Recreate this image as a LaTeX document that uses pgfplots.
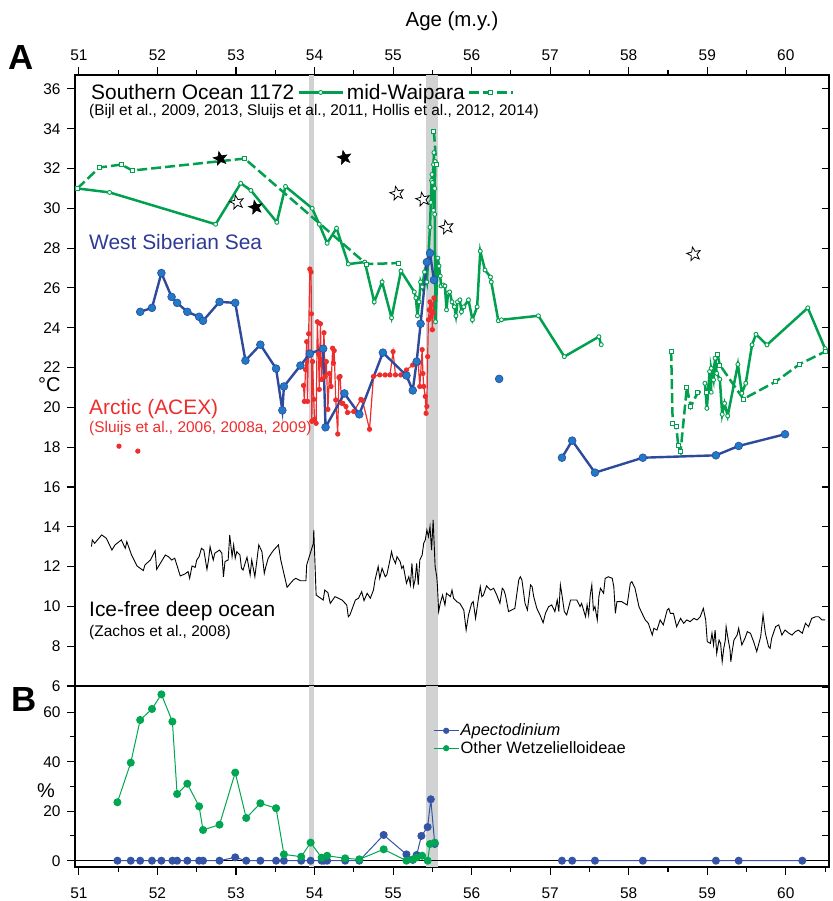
\documentclass[border=0pt]{standalone}
\usepackage{fontspec}
\setmainfont{Liberation Sans}
\usepackage{pgfplots}
\pgfplotsset{compat=1.18}
\usetikzlibrary{plotmarks}
\definecolor{sgreen}{HTML}{00A04F}
\definecolor{bline}{HTML}{2E4A9C}
\definecolor{bfill}{HTML}{1F7AC8}
\definecolor{rred}{HTML}{EE2D2D}
\definecolor{band}{HTML}{D1D2D4}
\definecolor{wss}{HTML}{2E3A94}
\definecolor{bblue}{HTML}{3554A5}
\definecolor{bgreen}{HTML}{00A651}
\pgfdeclareplotmark{fivestar}{%
 \pgfpathmoveto{\pgfpointpolar{90}{\pgfplotmarksize}}%
 \pgfpathlineto{\pgfpointpolar{126}{0.42\pgfplotmarksize}}%
 \pgfpathlineto{\pgfpointpolar{162}{\pgfplotmarksize}}%
 \pgfpathlineto{\pgfpointpolar{198}{0.42\pgfplotmarksize}}%
 \pgfpathlineto{\pgfpointpolar{234}{\pgfplotmarksize}}%
 \pgfpathlineto{\pgfpointpolar{270}{0.42\pgfplotmarksize}}%
 \pgfpathlineto{\pgfpointpolar{306}{\pgfplotmarksize}}%
 \pgfpathlineto{\pgfpointpolar{342}{0.42\pgfplotmarksize}}%
 \pgfpathlineto{\pgfpointpolar{18}{\pgfplotmarksize}}%
 \pgfpathlineto{\pgfpointpolar{54}{0.42\pgfplotmarksize}}%
 \pgfpathclose
 \pgfusepathqfillstroke
}
\pgfplotsset{
  base/.style={scale only axis, width=754bp, xmin=50.95, xmax=60.55,
    axis line style={line width=1.1bp}, every tick/.style={black, line width=1.1bp},
    tick align=outside, major tick length=8bp, minor tick length=5bp,
    /pgf/number format/assume math mode=true,
    tick label style={font=\fontsize{15.5}{18}\selectfont},
    yticklabel style={xshift=-3bp},
    unbounded coords=jump},
  rightticks/.style={scale only axis, width=754bp, xmin=50.95, xmax=60.55,
    hide x axis, axis y line*=right, yticklabels={}, tick align=inside,
    major tick length=7bp, axis line style={line width=1.1bp},
    every tick/.style={black, line width=1.1bp}},
}
\begin{document}
\begin{tikzpicture}
\useasboundingbox (0,0) rectangle (833bp,901bp);
% ---------------- top panel
\begin{axis}[base, at={(75bp,215bp)}, anchor=south west, height=611bp,
  ymin=6, ymax=36.7,
  xtick={51,52,...,60}, minor xtick={51.5,52.5,...,59.5},
  xtick pos=right, xticklabel pos=right,
  xticklabel style={yshift=2.5bp},
  ytick={6,8,...,36}, ytick pos=left,
  xlabel={Age (m.y.)}, xlabel style={font=\fontsize{20.5}{24}\selectfont, yshift=12bp},
  legend plot pos=right, legend columns=2,
  legend image code/.code={\draw[mark repeat=2,mark phase=2,#1] plot coordinates {(0bp,0bp) (22bp,0bp) (44bp,0bp)};},
  legend style={at={(0.0186,0.9714)}, anchor=west, draw=none, fill=none,
    inner sep=0pt, font=\fontsize{21}{24}\selectfont,
    nodes={inner sep=2bp}, /tikz/column sep=1bp},
]
\fill[band] (axis cs:53.93,6) rectangle (axis cs:53.99,36.7);
\fill[band] (axis cs:55.42,6) rectangle (axis cs:55.57,36.7);
% deep ocean
\addplot[black, line width=0.9bp, forget plot] table {
51.16 13.00
51.17 13.34
51.20 13.17
51.29 13.59
51.35 13.42
51.42 12.83
51.46 13.09
51.54 13.34
51.59 12.92
51.61 13.25
51.67 12.58
51.74 12.03
51.82 11.80
51.84 12.08
51.91 12.33
51.97 12.80
51.99 11.86
52.10 12.58
52.14 12.50
52.18 12.33
52.22 12.42
52.29 11.53
52.35 11.63
52.39 11.75
52.41 11.41
52.44 12.03
52.48 11.96
52.50 12.33
52.53 12.50
52.56 12.92
52.59 12.83
52.63 11.86
52.65 12.33
52.67 13.00
52.71 12.33
52.73 12.67
52.79 12.83
52.82 12.67
52.84 11.49
52.86 12.25
52.90 12.33
52.92 13.59
52.95 12.50
52.97 13.09
52.99 12.42
53.01 12.75
53.05 12.58
53.07 11.91
53.09 11.83
53.14 12.47
53.18 11.58
53.20 12.33
53.24 11.49
53.29 13.09
53.33 12.75
53.36 11.66
53.38 12.00
53.41 12.42
53.45 12.67
53.48 12.83
53.52 13.00
53.54 13.09
53.57 12.33
53.65 10.96
53.73 11.33
53.76 11.41
53.82 11.29
53.89 11.29
53.90 12.08
53.985 13.17
53.99 13.84
54.02 10.57
54.11 10.32
54.13 10.82
54.17 10.69
54.20 10.15
54.26 10.49
54.35 10.32
54.41 10.07
54.43 9.48
54.45 9.57
54.52 10.32
54.56 10.41
54.60 10.74
54.63 10.29
54.67 10.66
54.71 10.41
54.75 10.82
54.77 11.33
54.81 12.00
54.83 11.41
54.86 11.91
54.90 11.49
54.92 11.58
54.96 12.33
54.98 12.75
55.00 12.42
55.03 12.16
55.05 12.50
55.09 12.25
55.11 11.91
55.13 12.03
55.17 11.16
55.20 11.49
55.22 11.08
55.24 12.16
55.26 11.00
55.28 11.33
55.30 12.16
55.32 11.08
55.34 12.33
55.37 12.58
55.39 13.17
55.41 13.34
55.43 13.84
55.45 13.50
55.47 14.01
55.49 12.83
55.51 14.34
55.535 12.00
55.556 11.49
55.565 10.99
55.58 9.74
55.60 10.15
55.63 10.57
55.66 10.07
55.68 10.66
55.73 10.49
55.75 10.82
55.77 10.41
55.81 10.24
55.85 10.15
55.90 9.82
55.93 8.81
55.96 9.57
56.00 10.15
56.02 10.24
56.05 9.40
56.09 10.49
56.11 10.99
56.13 10.49
56.15 10.57
56.19 11.03
56.24 10.82
56.28 10.91
56.32 10.57
56.36 10.15
56.39 10.91
56.41 10.82
56.43 10.57
56.47 9.74
56.51 9.82
56.55 9.90
56.60 11.33
56.62 11.49
56.64 11.33
56.68 10.15
56.71 9.82
56.75 11.08
56.77 10.99
56.79 10.49
56.83 9.90
56.87 9.57
56.91 9.18
56.94 9.65
56.98 9.99
57.02 10.07
57.06 9.74
57.09 10.32
57.11 9.74
57.13 11.08
57.15 10.57
57.18 9.74
57.21 9.57
57.26 10.32
57.30 10.32
57.34 10.32
57.38 9.99
57.40 10.15
57.45 9.48
57.47 10.07
57.49 9.57
57.51 10.57
57.53 11.08
57.55 9.82
57.57 9.99
57.60 9.32
57.62 10.49
57.64 10.91
57.68 10.66
57.70 11.41
57.74 11.49
57.79 11.41
57.81 10.99
57.83 9.65
57.85 10.24
57.91 10.24
57.98 10.07
58.02 11.16
58.04 11.24
58.06 11.08
58.08 10.91
58.13 9.99
58.17 9.65
58.21 9.32
58.25 9.15
58.30 8.56
58.32 8.90
58.36 8.81
58.40 9.32
58.44 9.07
58.49 9.82
58.51 9.90
58.53 9.65
58.57 9.65
58.61 8.98
58.66 9.40
58.70 9.15
58.74 9.32
58.78 9.23
58.83 9.40
58.87 9.32
58.91 9.48
58.95 9.90
58.98 9.32
59.00 8.23
59.04 8.14
59.06 8.65
59.08 8.06
59.10 8.81
59.12 7.64
59.15 8.31
59.17 8.14
59.19 7.22
59.21 7.89
59.23 8.31
59.24 8.98
59.26 8.48
59.29 7.81
59.30 7.22
59.32 7.81
59.34 8.31
59.38 8.56
59.40 8.90
59.44 8.06
59.48 8.40
59.51 8.73
59.55 8.65
59.59 8.23
59.63 7.73
59.68 8.48
59.71 9.57
59.74 8.65
59.78 7.98
59.80 7.89
59.82 8.40
59.87 8.98
59.91 9.07
59.95 8.56
59.99 8.81
60.04 8.65
60.08 8.56
60.12 8.73
60.16 8.81
60.21 8.65
60.25 9.15
60.29 8.98
60.33 9.40
60.38 9.48
60.42 9.48
60.46 9.32
60.50 9.32
};
% Southern Ocean 1172 (solid)
\addplot[sgreen, line width=2.5bp, mark=*, mark size=2bp,
  mark options={fill=white, draw=sgreen, line width=0.9bp, solid}] table {
50.98 31.00
51.39 30.80
52.74 29.20
53.06 31.26
53.19 30.90
53.52 29.30
53.63 31.10
53.97 30.00
54.06 29.20
54.16 28.25
54.28 29.00
54.43 27.20
54.64 27.30
54.76 25.30
54.86 26.30
54.98 24.50
55.10 26.85
55.27 25.80
55.29 25.50
55.31 24.60
55.33 25.30
55.35 26.30
55.37 26.05
55.40 26.80
55.43 26.30
55.47 29.05
55.48 30.30
55.49 31.40
55.495 31.70
55.50 31.30
55.515 32.20
55.52 32.80
55.515 29.90
55.53 31.00
55.535 32.35
55.53 29.70
55.54 24.30
55.57 27.50
55.585 27.10
55.60 26.60
55.61 26.10
55.64 26.15
55.66 26.10
55.68 24.90
55.70 25.75
55.72 25.80
55.75 25.30
55.78 25.05
55.80 24.60
55.82 25.30
55.85 25.40
55.87 24.80
55.90 25.05
55.96 25.40
56.01 24.40
56.07 25.05
56.11 27.85
56.17 26.90
56.24 26.55
56.25 26.30
56.34 24.35
56.38 24.40
56.85 24.60
57.18 22.55
57.62 23.55
57.65 23.15
nan nan
58.97 21.21
58.995 19.95
59.03 21.80
59.05 20.76
59.05 21.96
59.08 21.38
59.10 22.47
59.12 21.71
59.16 21.41
59.19 19.65
59.22 20.20
59.26 19.57
59.39 22.16
59.44 20.71
59.49 21.21
59.57 23.14
59.62 23.67
59.76 23.14
60.28 25.00
60.50 22.95
};
\addlegendentry{Southern Ocean 1172}
% mid-Waipara (dashed)
\addplot[sgreen, line width=2.5bp, dash pattern=on 10bp off 4bp, mark=square*, mark size=2bp,
  mark options={fill=white, draw=sgreen, line width=0.9bp, solid}] table {
50.98 31.00
51.26 32.05
51.54 32.20
51.68 31.90
53.11 32.50
54.66 27.20
55.07 27.25
nan nan
55.52 33.85
55.55 32.20
nan nan
58.54 22.83
58.56 19.17
58.605 19.03
58.63 18.11
58.66 17.78
58.74 21.01
58.79 20.04
58.88 20.76
58.99 20.76
59.13 22.68
59.16 22.13
59.46 20.42
59.87 21.29
60.18 22.18
60.50 22.80
};
\addlegendentry{mid-Waipara}
% Arctic ACEX
\addplot[rred, line width=1.2bp, mark=*, mark size=2bp, mark options={fill=rred, draw=rred}, forget plot] table {
51.51 18.05
nan nan
51.75 17.80
nan nan
53.86 21.10
53.87 20.30
53.885 21.90
53.90 23.30
53.91 20.30
53.925 23.70
53.94 26.95
53.955 26.80
53.96 24.70
53.965 19.30
53.975 22.30
53.99 20.40
54.00 19.40
54.02 19.20
54.035 24.30
54.05 22.70
54.06 20.90
54.075 24.20
54.09 21.40
54.12 23.75
54.135 21.55
54.15 22.30
54.17 19.90
54.19 21.70
54.21 21.05
54.23 22.97
54.24 22.22
54.25 22.85
54.27 20.37
54.295 18.66
54.31 21.50
54.325 21.55
54.345 20.21
54.36 20.20
54.40 20.04
54.42 19.74
54.50 19.79
54.59 20.40
54.61 20.34
54.70 18.90
54.75 21.55
54.83 21.63
54.90 21.63
54.96 21.63
55.00 22.80
55.03 21.63
55.10 21.63
55.17 21.88
55.25 22.13
55.32 22.22
55.34 21.05
55.37 22.90
55.38 21.70
55.39 21.05
55.41 20.55
55.42 19.70
55.43 20.05
55.44 22.55
55.45 24.40
55.46 24.90
55.47 25.30
55.48 24.55
55.49 25.15
55.50 23.90
55.51 24.75
55.52 25.50
};
% West Siberian Sea
\addplot[bline, line width=2.4bp, mark=*, mark size=3.9bp, mark options={fill=bfill, draw=bline, line width=0.6bp}, forget plot] table {
51.78 24.80
51.93 25.00
52.05 26.75
52.18 25.55
52.25 25.25
52.38 24.80
52.53 24.55
52.58 24.35
52.79 25.30
52.99 25.25
53.12 22.35
53.31 23.15
53.51 21.95
53.59 19.85
53.61 21.05
53.82 22.10
53.94 22.70
54.11 22.95
54.14 19.00
54.38 20.70
54.57 19.65
54.87 22.75
55.17 21.60
55.25 20.85
55.30 22.30
55.35 24.20
55.43 27.30
55.47 27.75
55.52 26.40
nan nan
56.35 21.43
nan nan
57.15 17.47
57.28 18.33
57.57 16.72
58.18 17.47
59.11 17.59
59.40 18.06
59.99 18.65
};
% stars
\addplot[only marks, mark=fivestar, mark size=7.2bp, mark options={fill=black, draw=black, line width=0.6bp, rotate=12}, forget plot] table {
52.80 32.50
53.25 30.05
54.38 32.55
};
\addplot[only marks, mark=fivestar, mark size=7.2bp, mark options={fill=white, draw=black, line width=0.8bp, rotate=12}, forget plot] table {
53.01 30.30
55.05 30.75
55.38 30.45
55.68 29.05
58.83 27.70
};
\end{axis}
\begin{axis}[rightticks, at={(75bp,215bp)}, anchor=south west, height=611bp,
  ymin=6, ymax=36.7, ytick={6,8,...,36}]
\end{axis}
% ---------------- bottom panel
\begin{axis}[base, at={(75bp,34bp)}, anchor=south west, height=181bp,
  ymin=-2.55, ymax=70.58,
  xtick={51,52,...,60}, minor xtick={51.5,52.5,...,60.5},
  xtick pos=left, xticklabel pos=left,
  xticklabel style={yshift=-9.5bp},
  ytick={0,20,40,60}, minor ytick={10,30,50}, ytick pos=left,
  legend image code/.code={\draw[mark repeat=2,mark phase=2,#1, mark size=2.6bp] plot coordinates {(0bp,0bp) (12.5bp,0bp) (25bp,0bp)};},
  legend cell align=left,
  legend style={at={(0.4748,0.7045)}, anchor=west, draw=none, fill=none,
    inner sep=0pt, font=\fontsize{16.5}{19}\selectfont,
    nodes={inner sep=1.5bp}, /tikz/row sep=1bp},
]
\fill[band] (axis cs:53.93,-2.55) rectangle (axis cs:53.99,70.58);
\fill[band] (axis cs:55.42,-2.55) rectangle (axis cs:55.57,70.58);
\addplot[black, line width=1bp, forget plot] coordinates {(50.95,0) (60.55,0)};
\addplot[bblue, line width=1bp, mark=*, mark size=3.5bp, mark options={fill=bblue, draw=bblue}] table {
51.49 0
51.66 0
51.78 0
51.93 0
52.05 0
52.19 0
52.25 0
52.38 0
52.53 0
52.58 0
52.79 0
52.99 1.35
53.13 0
53.31 0
53.51 0
53.61 0
53.83 0
53.95 0
54.09 0
54.12 0
54.16 0
54.39 0
54.57 0
54.88 10.4
55.17 2.55
55.25 0.3
55.30 2.3
55.36 10.0
55.44 13.6
55.48 24.8
55.53 6.75
nan nan
57.15 0
57.28 0
57.57 0
58.18 0
59.11 0
59.40 0
60.21 0
};
\addlegendentry{\itshape Apectodinium}
\addplot[bgreen, line width=1bp, mark=*, mark size=3.5bp, mark options={fill=bgreen, draw=bgreen}] table {
51.49 23.6
51.66 39.6
51.78 56.85
51.93 61.3
52.05 67.2
52.19 56.2
52.25 26.95
52.38 31.1
52.53 21.95
52.58 12.4
52.79 14.55
52.99 35.6
53.13 17.25
53.31 23.2
53.51 21.2
53.61 2.55
53.83 1.6
53.95 7.3
54.09 1.2
54.16 2.0
54.39 0.95
54.57 0.55
54.88 4.6
55.17 0.0
55.25 0.5
55.30 1.3
55.37 2.0
55.44 0.0
55.47 6.75
55.53 7.3
};
\addlegendentry{Other Wetzelielloideae}
\end{axis}
\begin{axis}[rightticks, at={(75bp,34bp)}, anchor=south west, height=181bp,
  ymin=-2.55, ymax=70.58, ytick={0,10,...,70}]
\end{axis}
% ---------------- text
\node[anchor=base west, inner sep=0, font=\fontsize{15.5}{18}\selectfont] at (89bp,785bp) {(Bijl et al., 2009, 2013, Sluijs et al., 2011, Hollis et al., 2012, 2014)};
\node[anchor=base west, inner sep=0, font=\fontsize{21}{24}\selectfont, text=wss] at (89bp,651bp) {West Siberian Sea};
\node[anchor=base west, inner sep=0, font=\fontsize{21}{24}\selectfont, text=rred] at (89bp,486bp) {Arctic (ACEX)};
\node[anchor=base west, inner sep=0, font=\fontsize{15.5}{18}\selectfont, text=rred] at (89bp,468bp) {(Sluijs et al., 2006, 2008a, 2009)};
\node[anchor=base west, inner sep=0, font=\fontsize{21}{24}\selectfont] at (89bp,284bp) {Ice-free deep ocean};
\node[anchor=base west, inner sep=0, font=\fontsize{15.5}{18}\selectfont] at (89bp,264bp) {(Zachos et al., 2008)};
\node[anchor=base west, inner sep=0, font=\fontsize{35}{40}\selectfont\bfseries] at (8bp,831bp) {A};
\node[anchor=base west, inner sep=0, font=\fontsize{35}{40}\selectfont\bfseries] at (11bp,189bp) {B};
\node[anchor=base west, inner sep=0, font=\fontsize{20}{24}\selectfont] at (38bp,509bp) {°C};
\node[anchor=base west, inner sep=0, font=\fontsize{20}{24}\selectfont] at (37bp,103bp) {\%};
\end{tikzpicture}
\end{document}
